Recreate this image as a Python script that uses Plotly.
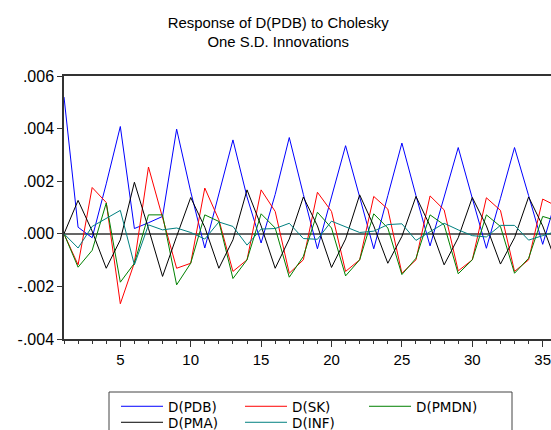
import plotly.graph_objects as go

# Periods
periods = list(range(1, 37))

# Responses (x 0.001)
d_pdb = [5.2, 0.25, -0.15, 1.9, 4.08, 0.2, 0.42, 0.66, 3.98, 1.6, -0.54, 1.5,
         3.57, 1.4, -0.35, 1.5, 3.66, 1.5, -0.57, 1.4, 3.35, 1.4, -0.57, 1.45,
         3.45, 1.45, -0.46, 1.4, 3.28, 1.35, -0.55, 1.35, 3.28, 1.45, -0.4, 1.4]
d_sk = [0.0, -1.18, 1.76, 1.19, -2.66, -1.1, 2.54, 0.58, -1.31, -1.12, 1.74, 0.53,
        -1.43, -0.99, 1.67, 0.85, -1.5, -0.99, 1.58, 0.85, -1.43, -0.99, 1.42, 0.94,
        -1.5, -0.99, 1.44, 0.91, -1.41, -0.99, 1.37, 0.89, -1.43, -0.99, 1.32, 1.05]
d_pmdn = [0.0, -1.27, -0.63, 1.17, -1.84, -1.12, 0.72, 0.72, -1.94, -1.12, 0.72, 0.47,
          -1.7, -0.99, 0.76, 0.22, -1.65, -0.86, 0.82, 0.22, -1.6, -0.99, 0.76, 0.22,
          -1.55, -0.93, 0.72, 0.34, -1.52, -0.99, 0.72, 0.28, -1.5, -0.93, 0.66, 0.5]
d_pma = [0.0, 1.27, 0.1, -1.31, -0.23, 1.96, 0.2, -1.62, -0.1, 1.38, 0.25, -1.31,
         -0.23, 1.67, 0.3, -1.31, -0.2, 1.4, 0.3, -1.28, -0.2, 1.48, 0.3, -1.12,
         -0.1, 1.42, 0.3, -1.18, -0.15, 1.38, 0.3, -1.15, -0.15, 1.4, 0.3, -1.15]
d_inf = [0.0, -0.54, 0.28, 0.6, 0.89, -1.18, 0.34, 0.15, 0.22, 0.05, -0.2, 0.45,
         0.28, -0.43, 0.18, 0.2, 0.4, -0.18, -0.21, 0.48, 0.26, 0.05, 0.1, 0.35,
         0.38, -0.25, 0.08, 0.4, 0.15, -0.07, -0.12, 0.32, 0.32, -0.24, -0.07, 0.1]

series_names = ["D(PDB)", "D(SK)", "D(PMDN)", "D(PMA)", "D(INF)"]
series_values = [d_pdb, d_sk, d_pmdn, d_pma, d_inf]
series_colors = ["#0000FF", "#FF0000", "#008000", "#000000", "#008080"]
legend_rows = ["legend", "legend", "legend", "legend2", "legend2"]

ytick_vals = [-0.004, -0.002, 0.0, 0.002, 0.004, 0.006]
ytick_text = ["-.004", "-.002", ".000", ".002", ".004", ".006"]
xtick_vals = [5, 10, 15, 20, 25, 30, 35]
xtick_text = ["5", "10", "15", "20", "25", "30", "35"]

W, H = 551, 430
ML, MR, MT, MB = 64, 0, 76, 91
PW, PH = W - ML - MR, H - MT - MB

FONT = "Liberation Sans, Arial, sans-serif"
LFONT = "DejaVu Sans, Liberation Sans, sans-serif"

fig = go.Figure()
for name, vals, col, lg in zip(series_names, series_values, series_colors, legend_rows):
    fig.add_trace(go.Scatter(
        x=periods, y=[v * 0.001 for v in vals], mode="lines", name=name,
        line=dict(color=col, width=1), legend=lg,
    ))

legend_common = dict(
    orientation="h", xref="container", yref="container",
    xanchor="left", yanchor="top",
    borderwidth=0, bgcolor="rgba(0,0,0,0)",
    font=dict(family=LFONT, size=13.5, color="black"),
    entrywidth=67, entrywidthmode="pixels", traceorder="normal",
    itemwidth=42,
)

# legend frame (px -> paper)
def px_x(p):
    return (p - ML) / PW

def px_y(p):
    return (MT + PH - p) / PH

fig.update_layout(
    width=W, height=H,
    margin=dict(l=ML, r=MR, t=MT, b=MB, autoexpand=False),
    paper_bgcolor="white", plot_bgcolor="white",
    font=dict(family=FONT, size=15, color="black"),
    title=dict(
        text="Response of D(PDB) to Cholesky<br>One S.D. Innovations",
        x=0.505, xref="container", xanchor="center",
        y=1 - 28 / H, yref="container", yanchor="top",
        font=dict(family=FONT, size=14.9, color="black"),
    ),
    showlegend=True,
    legend=dict(x=116 / W, y=1 - 391 / H, **legend_common),
    legend2=dict(x=116 / W, y=1 - 407 / H, **legend_common),
    shapes=[dict(
        type="rect", xref="paper", yref="paper",
        x0=px_x(109), x1=px_x(512), y0=px_y(445), y1=px_y(392),
        line=dict(color="#444", width=1), fillcolor="rgba(0,0,0,0)", layer="above",
    )],
    xaxis=dict(
        range=[1, 35.59], automargin=False,
        showgrid=False, zeroline=False,
        showline=True, linecolor="#333", linewidth=1.5, mirror=True,
        ticks="outside", ticklen=6, tickcolor="#333", tickwidth=1,
        tickmode="array", tickvals=xtick_vals, ticktext=xtick_text,
        ticklabeloverflow="allow",
        minor=dict(ticks="outside", ticklen=3, tickcolor="#333", dtick=1, tick0=1, showgrid=False),
        tickfont=dict(family=FONT, size=15, color="black"),
    ),
    yaxis=dict(
        range=[-0.004, 0.006], automargin=False,
        showgrid=False,
        zeroline=True, zerolinecolor="#666", zerolinewidth=1.5,
        showline=True, linecolor="#333", linewidth=1.5,
        ticks="outside", ticklen=5, tickcolor="#333", tickwidth=1,
        tickmode="array", tickvals=ytick_vals, ticktext=ytick_text,
        tickfont=dict(family=FONT, size=16, color="black"),
    ),
)

fig.write_html("out.html", config={"displayModeBar": False},
               post_script="document.body.style.margin='0px';")
